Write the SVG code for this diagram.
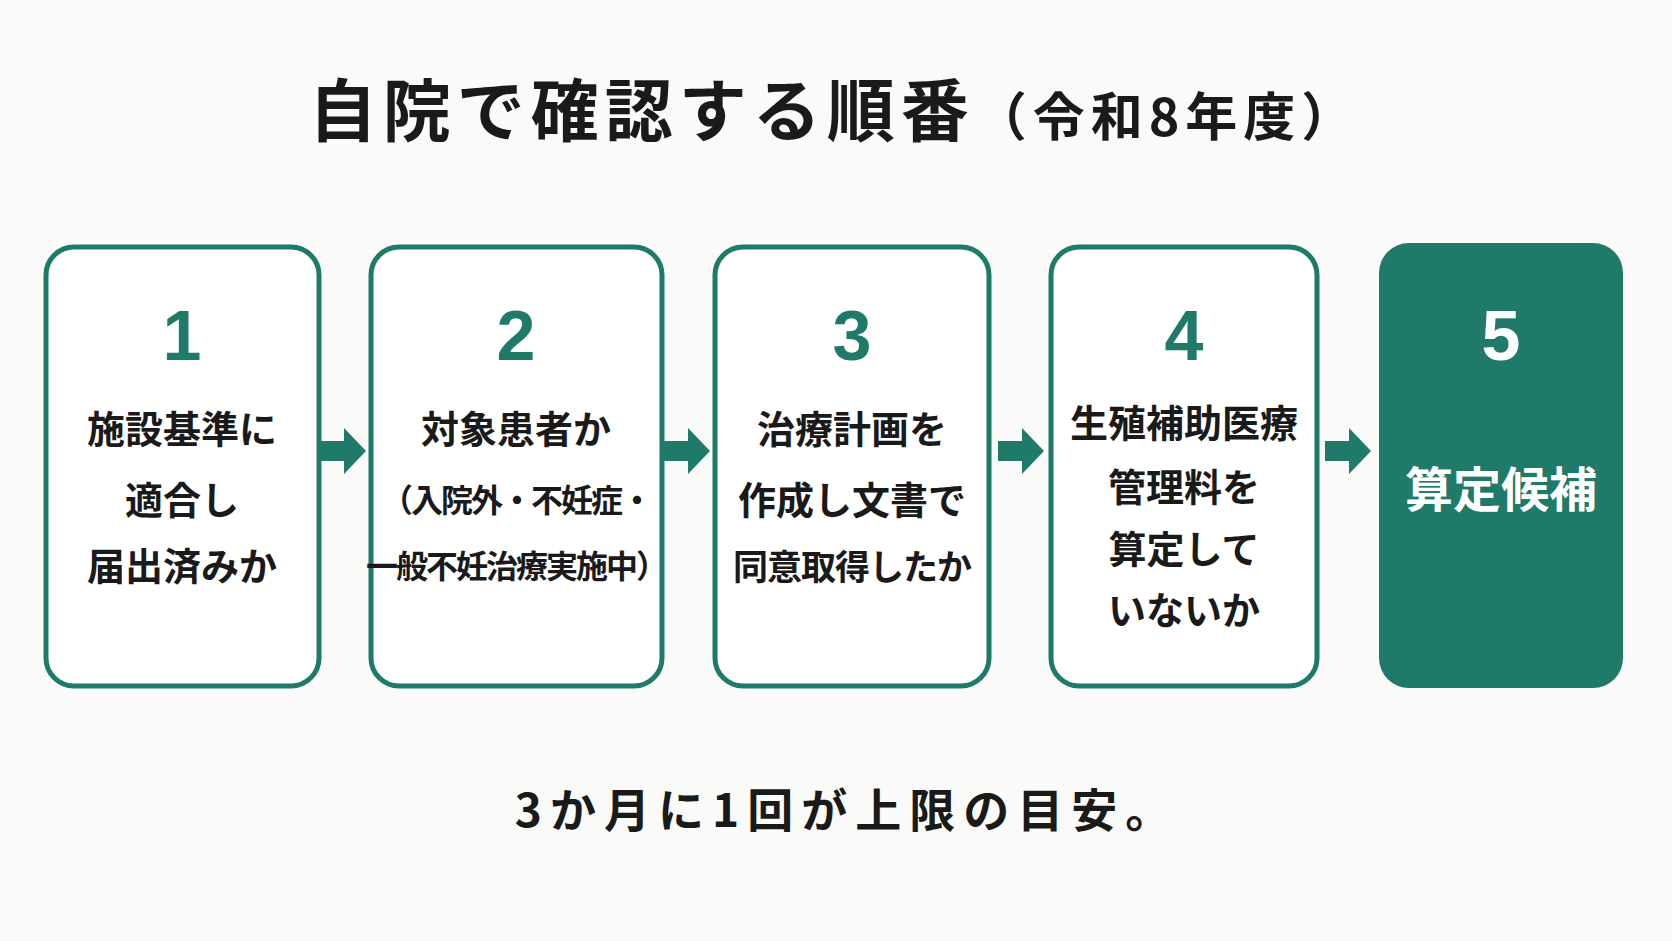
<svg xmlns="http://www.w3.org/2000/svg" width="1672" height="941" viewBox="0 0 1672 941">
<style>
.box{fill:#fff;stroke:#207a6a;stroke-width:5}
.num{font-family:"Liberation Sans","Noto Sans CJK JP",sans-serif;font-weight:bold;font-size:70px;fill:#207a6a;text-anchor:middle}
.t{font-family:"Noto Sans CJK JP",sans-serif;font-weight:bold;font-size:38px;fill:#1a1a1a;text-anchor:middle}
.s{font-size:32px;letter-spacing:-2px}
.arr{fill:#207a6a}
</style>
<rect width="1672" height="941" fill="#fafaf9"/>
<text x="834" y="136" font-family="Noto Sans CJK JP,sans-serif" font-weight="bold" font-size="68" fill="#1a1a1a" text-anchor="middle" letter-spacing="6">自院で確認する順番<tspan font-size="52">（令和8年度）</tspan></text>
<g id="connectors">
<polygon class="arr" points="320,441 344,441 344,428 366,451 344,474 344,461 320,461"/>
<polygon class="arr" points="664,441 688,441 688,428 710,451 688,474 688,461 664,461"/>
<polygon class="arr" points="998,441 1022,441 1022,428 1044,451 1022,474 1022,461 998,461"/>
<polygon class="arr" points="1325,441 1349,441 1349,428 1371,451 1349,474 1349,461 1325,461"/>
</g>
<g id="n1"><rect class="box" x="46" y="247" width="273" height="439" rx="28"/>
<text class="num" x="182" y="360">1</text>
<text class="t" x="182" y="443">施設基準に</text><text class="t" x="182" y="514">適合し</text><text class="t" x="182" y="580">届出済みか</text></g>
<g id="n2"><rect class="box" x="371" y="247" width="291" height="439" rx="28"/>
<text class="num" x="516" y="360">2</text>
<text class="t" x="516" y="443">対象患者か</text><text class="t s" x="516" y="512">（入院外・不妊症・</text><text class="t s" x="516" y="578">一般不妊治療実施中）</text></g>
<g id="n3"><rect class="box" x="715" y="247" width="274" height="439" rx="28"/>
<text class="num" x="852" y="360">3</text>
<text class="t" x="852" y="443">治療計画を</text><text class="t" x="852" y="514">作成し文書で</text><text class="t" x="852" y="580" style="font-size:35px;letter-spacing:-1px">同意取得したか</text></g>
<g id="n4"><rect class="box" x="1051" y="247" width="266" height="439" rx="28"/>
<text class="num" x="1184" y="360">4</text>
<text class="t" x="1184" y="437">生殖補助医療</text><text class="t" x="1184" y="501">管理料を</text><text class="t" x="1184" y="563">算定して</text><text class="t" x="1184" y="624">いないか</text></g>
<g id="n5"><rect x="1379" y="243" width="244" height="445" rx="30" fill="#207a6a"/>
<text class="num" x="1501" y="360" style="fill:#fff">5</text>
<text class="t" x="1501" y="507" style="fill:#fff;font-size:48px">算定候補</text></g>
<text x="847" y="827" font-family="Noto Sans CJK JP,sans-serif" font-weight="bold" font-size="46" fill="#1a1a1a" text-anchor="middle" letter-spacing="8">3か月に1回が上限の目安。</text>
</svg>
